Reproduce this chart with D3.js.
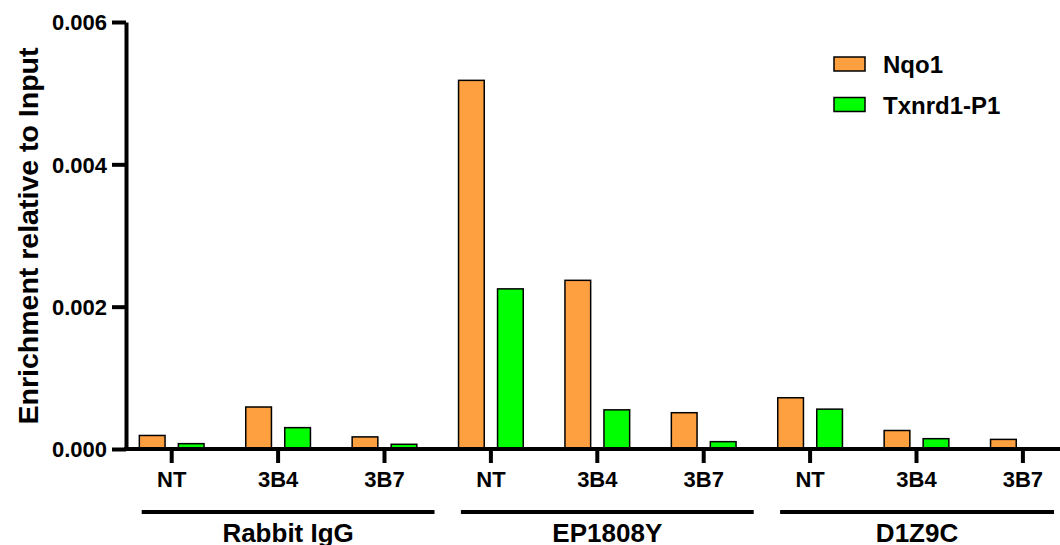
<!DOCTYPE html>
<html>
<head>
<meta charset="utf-8">
<script src="https://cdn.jsdelivr.net/npm/d3@7"></script>
<style>
  body { margin: 0; background: #fff; }
  text { font-family: "Liberation Sans", Arial, sans-serif; font-weight: bold; fill: #000; }
</style>
</head>
<body>
<svg width="1060" height="545"></svg>
<script>
// chart values
var groups = ['Rabbit IgG', 'EP1808Y', 'D1Z9C'];
var conditions = ['NT', '3B4', '3B7'];
var series = ['Nqo1', 'Txnrd1-P1'];
var nqo1 = [0.00019, 0.00059, 0.00017, 0.00518, 0.00237, 0.00051, 0.00072, 0.00026, 0.000135];
var txnrd1 = [0.000075, 0.00030, 0.000066, 0.00225, 0.00055, 0.000103, 0.00056, 0.000145, 0];
var yTicks = [0, 0.002, 0.004, 0.006];
var colors = ['#FFA040', '#00FF00'];

var svg = d3.select('svg');

// one key per bar cluster
var keys = [];
groups.forEach(function(g) {
  conditions.forEach(function(c) { keys.push(g + '|' + c); });
});
var data = keys.map(function(k, i) {
  return { key: k, group: k.split('|')[0], cond: k.split('|')[1], values: [nqo1[i], txnrd1[i]] };
});

var axisX = 126;
var baseY = 449;
var y = d3.scaleLinear().domain([0, 0.006]).range([baseY, 22]);
var x = d3.scaleBand().domain(keys).range([118.5, 1076.1]);
var x1 = d3.scaleBand().domain(series).range([-32.35, 32.35]).paddingInner(0.341);
function center(k) { return x(k) + x.bandwidth() / 2; }

// bars
var cluster = svg.append('g').selectAll('g').data(data)
  .enter().append('g')
  .attr('transform', function(d) { return 'translate(' + center(d.key) + ',0)'; });

cluster.selectAll('rect')
  .data(function(d) { return d.values.map(function(v, i) { return { s: series[i], v: v, i: i }; }).filter(function(b) { return b.v > 0; }); })
  .enter().append('rect')
  .attr('x', function(b) { return x1(b.s); })
  .attr('width', x1.bandwidth())
  .attr('y', function(b) { return y(b.v); })
  .attr('height', function(b) { return baseY - y(b.v); })
  .style('fill', function(b) { return colors[b.i]; })
  .style('stroke', '#000')
  .style('stroke-width', 1.5);

// y axis
var yAxis = svg.append('g')
  .attr('transform', 'translate(' + axisX + ',0)')
  .call(d3.axisLeft(y).tickValues(yTicks).tickFormat(d3.format('.3f')).tickSize(14).tickSizeOuter(0));
yAxis.select('.domain').attr('stroke-width', 4);
yAxis.selectAll('.tick line').attr('stroke-width', 4);
yAxis.selectAll('.tick text').attr('x', -19).attr('dy', '0.36em').style('font-size', '22px');

// x axis
var xAxis = svg.append('g')
  .attr('transform', 'translate(0,' + baseY + ')')
  .call(d3.axisBottom(x).tickFormat(function(k) { return k.split('|')[1]; }).tickSize(14).tickSizeOuter(0));
xAxis.select('.domain').remove();
xAxis.append('line')
  .attr('x1', axisX - 2).attr('x2', 1060)
  .attr('stroke', '#000').attr('stroke-width', 4);
xAxis.selectAll('.tick line').attr('stroke-width', 4);
xAxis.selectAll('.tick text').attr('y', 22).attr('dy', '0.71em').style('font-size', '22px');

// group lines and labels (the reference crops these labels at the bottom edge)
groups.forEach(function(g) {
  var first = center(g + '|' + conditions[0]);
  var last = center(g + '|' + conditions[conditions.length - 1]);
  var x0 = first - 30;
  var x2 = Math.min(last + 50, 1054);
  svg.append('line')
    .attr('x1', x0).attr('x2', x2)
    .attr('y1', 512).attr('y2', 512)
    .attr('stroke', '#000').attr('stroke-width', 4);
  svg.append('text')
    .attr('x', (x0 + x2) / 2).attr('y', 542)
    .attr('text-anchor', 'middle')
    .style('font-size', '26px')
    .text(g);
});

// y axis title
svg.append('text')
  .attr('transform', 'translate(38,236) rotate(-90)')
  .attr('text-anchor', 'middle')
  .style('font-size', '28.5px')
  .text('Enrichment relative to Input');

// legend
var legend = svg.append('g').attr('transform', 'translate(834,57)');
var item = legend.selectAll('g').data(series)
  .enter().append('g')
  .attr('transform', function(d, i) { return 'translate(0,' + (i * 40.5) + ')'; });
item.append('rect')
  .attr('width', 31).attr('height', 14)
  .style('fill', function(d, i) { return colors[i]; })
  .style('stroke', '#000').style('stroke-width', 1.5);
item.append('text')
  .attr('x', 49).attr('y', 16)
  .style('font-size', '24px')
  .text(function(d) { return d; });
</script>
</body>
</html>
